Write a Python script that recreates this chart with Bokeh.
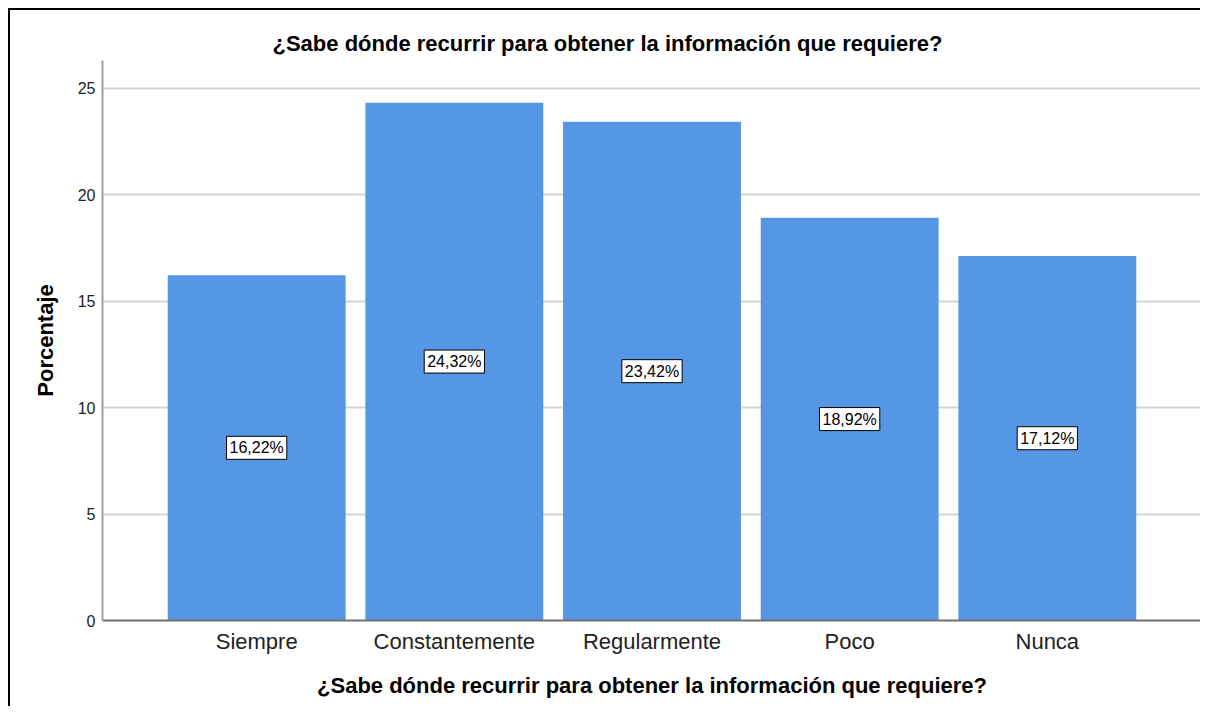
from bokeh.plotting import figure
from bokeh.models import ColumnDataSource, FactorRange, Range1d, SingleIntervalTicker
from bokeh.core.properties import value
from bokeh.embed import file_html
from bokeh.resources import INLINE

categories = ["Siempre", "Constantemente", "Regularmente", "Poco", "Nunca"]
percentages = [16.22, 24.32, 23.42, 18.92, 17.12]
pct_labels = ["16,22%", "24,32%", "23,42%", "18,92%", "17,12%"]
title_text = "¿Sabe dónde recurrir para obtener la información que requiere?"
y_label = "Porcentaje"

src = ColumnDataSource(dict(
    cat=categories,
    val=percentages,
    mid=[v / 2 for v in percentages],
    lab=pct_labels,
))

FONT = "Liberation Sans"

p = figure(
    x_range=FactorRange(factors=categories, range_padding=0.28, range_padding_units="absolute"),
    y_range=Range1d(0, 26.3),
    width=1192, height=698,
    output_backend="svg", toolbar_location=None,
    min_border_left=92, min_border_right=1, min_border_top=50, min_border_bottom=88,
)
p.styles = {"border-left": "2px solid black", "border-top": "2px solid black",
            "margin-left": "8px", "margin-top": "8px"}
p.outline_line_color = None
p.background_fill_color = "white"
p.border_fill_color = "white"

p.vbar(x="cat", top="val", width=0.9, source=src, fill_color="#5596e5", line_color=None)

p.text(x="cat", y="mid", text="lab", source=src,
       text_align="center", text_baseline="middle",
       text_font=value(FONT), text_font_size="16px", text_color="black",
       background_fill_color="white", border_line_color="black", border_line_width=1,
       padding=3)

p.title.text = title_text
p.title.align = "left"
p.title.offset = 170
p.title.text_font = FONT
p.title.text_font_size = "22px"
p.title.text_font_style = "bold"
p.title.text_color = "black"

p.xgrid.grid_line_color = None
p.ygrid.grid_line_color = "#d5d5d5"
p.ygrid.grid_line_width = 2

p.yaxis.ticker = SingleIntervalTicker(interval=5)
p.yaxis.axis_line_color = "#a0a0a0"
p.yaxis.axis_line_width = 2
p.yaxis.major_tick_line_color = None
p.yaxis.major_tick_out = 0
p.yaxis.major_tick_in = 0
p.yaxis.minor_tick_line_color = None
p.yaxis.major_label_text_font = FONT
p.yaxis.major_label_text_font_size = "16px"
p.yaxis.major_label_text_color = "#222222"
p.yaxis.major_label_standoff = 3
p.yaxis.axis_label = y_label
p.yaxis.axis_label_text_font = FONT
p.yaxis.axis_label_text_font_size = "22px"
p.yaxis.axis_label_text_font_style = "bold"
p.yaxis.axis_label_text_color = "black"
p.yaxis.axis_label_standoff = 17

p.xaxis.axis_line_color = "#707070"
p.xaxis.axis_line_width = 2
p.xaxis.major_tick_line_color = None
p.xaxis.major_tick_out = 0
p.xaxis.major_tick_in = 0
p.xaxis.minor_tick_line_color = None
p.xaxis.major_label_text_font = FONT
p.xaxis.major_label_text_font_size = "22px"
p.xaxis.major_label_text_color = "#222222"
p.xaxis.major_label_standoff = 8
p.xaxis.axis_label = title_text
p.xaxis.axis_label_text_font = FONT
p.xaxis.axis_label_text_font_size = "22px"
p.xaxis.axis_label_text_font_style = "bold"
p.xaxis.axis_label_text_color = "black"
p.xaxis.axis_label_standoff = 16

open("out.html", "w").write(file_html(p, INLINE))
